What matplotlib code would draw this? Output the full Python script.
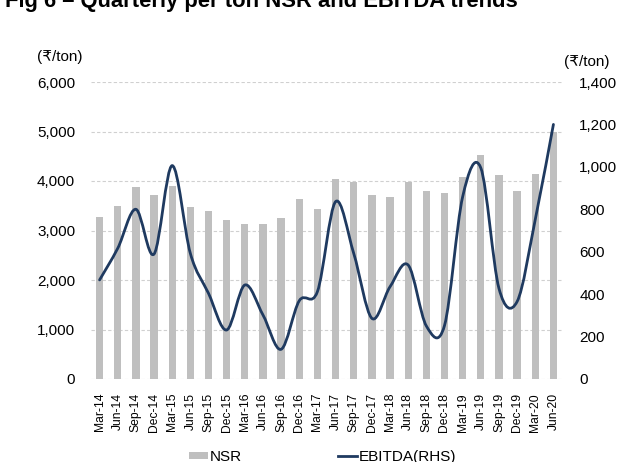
import numpy as np
import matplotlib
matplotlib.use("Agg")
import matplotlib.pyplot as plt
from matplotlib import font_manager as fm
from matplotlib.path import Path
from matplotlib.patches import PathPatch, Patch
from matplotlib.lines import Line2D

# ---------------- data ----------------
quarters = ["Mar-14", "Jun-14", "Sep-14", "Dec-14", "Mar-15", "Jun-15", "Sep-15", "Dec-15",
            "Mar-16", "Jun-16", "Sep-16", "Dec-16", "Mar-17", "Jun-17", "Sep-17", "Dec-17",
            "Mar-18", "Jun-18", "Sep-18", "Dec-18", "Mar-19", "Jun-19", "Sep-19", "Dec-19",
            "Mar-20", "Jun-20"]
nsr = [3270, 3490, 3880, 3710, 3890, 3475, 3390, 3220, 3130, 3130, 3250, 3630, 3430,
       4035, 3975, 3710, 3670, 3980, 3790, 3765, 4075, 4530, 4130, 3805, 4140, 4980]
ebitda = [467, 616, 800, 589, 1006, 592, 404, 231, 443, 302, 140, 369, 412,
          836, 592, 286, 435, 537, 250, 252, 859, 995, 427, 365, 752, 1200]
left_ticks = [0, 1000, 2000, 3000, 4000, 5000, 6000]
right_ticks = [0, 200, 400, 600, 800, 1000, 1200, 1400]
title = "Fig 6 \u2013 Quarterly per ton NSR and EBITDA trends"
unit = "(\u20b9/ton)"

# ---------------- fonts ----------------
def has(name):
    try:
        fm.findfont(fm.FontProperties(family=name), fallback_to_default=False)
        return True
    except Exception:
        return False

narrow = "Liberation Sans Narrow" if has("Liberation Sans Narrow") else "Liberation Sans"
fam = [narrow, "DejaVu Sans"]
plt.rcParams["font.family"] = fam

BAR = "#bfbfbf"
LINE = "#1f3a60"
GRID = "#d0d0d0"

W, H = 639, 462
fig = plt.figure(figsize=(W / 100, H / 100), dpi=100)
ax = fig.add_axes([90.5 / W, 83 / H, 472 / W, 297 / H])
ax2 = ax.twinx()

x = np.arange(len(quarters))
ax.bar(x, nsr, width=0.4, color=BAR, zorder=2)
ax.set_xlim(-0.5, len(quarters) - 0.5)
ax.set_ylim(0, 6000)
ax.set_yticks(left_ticks)
ax.set_yticklabels([f"{v:,}" for v in left_ticks])
ax.set_xticks(x)
ax.set_xticklabels(quarters, rotation=90, fontsize=8.7)
ax.set_axisbelow(True)
ax.grid(axis="y", color=GRID, linestyle=(0, (3, 2)), linewidth=0.8, zorder=0)
ax.tick_params(axis="both", length=0)
ax.tick_params(axis="y", labelsize=11, pad=11)
ax.tick_params(axis="x", pad=10)

ax2.set_ylim(0, 1400)
ax2.set_yticks(right_ticks)
ax2.set_yticklabels([f"{v:,}" for v in right_ticks])
ax2.tick_params(axis="y", length=0, labelsize=11, pad=12)

for a in (ax, ax2):
    for s in a.spines.values():
        s.set_visible(False)

# smooth (Excel-like) line through the data using cubic Bezier segments
pts = np.column_stack([x, ebitda]).astype(float)
ext = np.vstack([pts[0], pts, pts[-1]])
verts = [pts[0]]
codes = [Path.MOVETO]
for i in range(len(pts) - 1):
    p0, p1, p2, p3 = ext[i], ext[i + 1], ext[i + 2], ext[i + 3]
    c1 = p1 + (p2 - p0) / 6.0
    c2 = p2 - (p3 - p1) / 6.0
    verts += [c1, c2, p2]
    codes += [Path.CURVE4] * 3
ax2.add_patch(PathPatch(Path(verts, codes), facecolor="none", edgecolor=LINE,
                        linewidth=2.0, capstyle="round", joinstyle="round", zorder=3))

fig.text(90.5 / W - 31 / W, 1 - 57 / H, unit, ha="center", va="center", fontsize=11)
fig.text(587 / W, 1 - 62 / H, unit, ha="center", va="center", fontsize=11)

fig.text(5 / W, 1 - 7 / H, title, ha="left", va="baseline", fontsize=15.8,
         fontweight="bold", family=["Liberation Sans", "DejaVu Sans"])

handles = [Patch(facecolor=BAR, edgecolor="none"),
           Line2D([0], [0], color=LINE, linewidth=2.0)]
fig.legend(handles, ["NSR", "EBITDA(RHS)"], loc="center", ncol=2,
           bbox_to_anchor=(323 / W, 1 - 457 / H), frameon=False, fontsize=11,
           handlelength=1.2, handleheight=0.4, handletextpad=0.15, columnspacing=6.3,
           borderpad=0, borderaxespad=0)

fig.savefig("out.png", dpi=100)
